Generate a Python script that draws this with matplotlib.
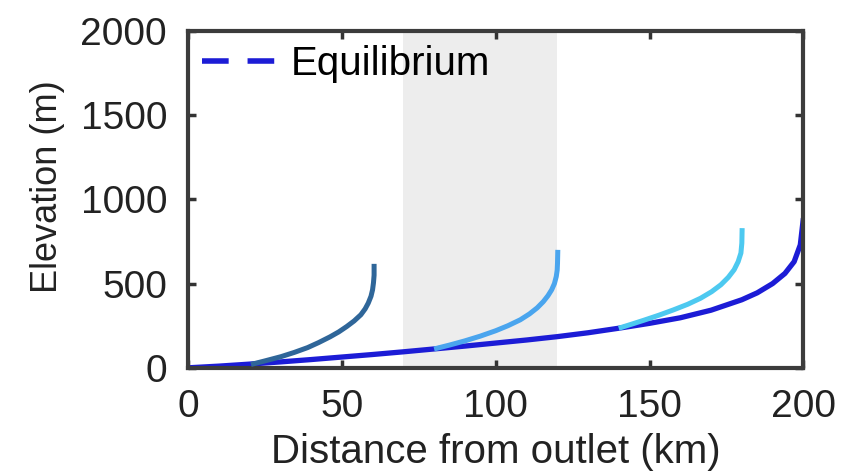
import numpy as np
import matplotlib
matplotlib.use('Agg')
import matplotlib.pyplot as plt
from matplotlib.lines import Line2D

plt.rcParams['font.family'] = ['Liberation Sans', 'DejaVu Sans']

# equilibrium profile (distance km, elevation m)
eq_x = [0, 10, 20, 30, 40, 50, 60, 70, 80, 90, 100, 110, 120, 130, 140,
        150, 160, 170, 180, 185, 190, 194, 197, 199, 200]
eq_y = [0, 10, 22, 35, 49, 64, 79, 95, 112, 129, 147, 165, 185, 208, 235,
        264, 297, 342, 404, 445, 500, 560, 630, 730, 888]

# transient profiles
t1_x = [20.5, 25, 30.2, 34.5, 38.9, 42.5, 46.2, 49, 51.6, 54, 56.2, 57.6,
        58.6, 59.5, 60.0, 60.3, 60.5, 60.5]
t1_y = [20, 41, 66, 91, 120, 150, 184, 213, 245, 278, 315, 350,
        384, 425, 463, 505, 550, 617]
t2_x = [80, 85, 90, 95, 100, 104, 108, 111, 113.5, 115.5, 117, 118.2,
        119.1, 119.7, 120.0, 120.1, 120.2]
t2_y = [112, 135, 160, 188, 220, 250, 285, 320, 356, 393, 428, 463,
        500, 542, 580, 621, 700]
t3_x = [140, 144, 148.1, 153, 157.8, 162.4, 166.6, 170.2, 173.2, 175.6,
        177.5, 178.8, 179.7, 180.0, 180.1]
t3_y = [235, 258, 282, 312, 344, 377, 413, 452, 493, 537,
        582, 630, 681, 740, 829]

span = (70, 120)

fig = plt.figure(figsize=(8.62, 4.74), dpi=100)
ax = fig.add_axes([0.218, 0.224, 0.714, 0.711])

ax.axvspan(span[0], span[1], color='#ededed', zorder=0, lw=0)

ax.plot(eq_x, eq_y, color='#1c1cd6', lw=3.8, solid_capstyle='butt', zorder=2)
ax.plot(t1_x, t1_y, color='#2f6699', lw=3.6, solid_capstyle='butt', zorder=3)
ax.plot(t2_x, t2_y, color='#4aa5ee', lw=3.6, solid_capstyle='butt', zorder=3)
ax.plot(t3_x, t3_y, color='#4dc9f0', lw=3.6, solid_capstyle='butt', zorder=3)

ax.set_xlim(0, 200)
ax.set_ylim(0, 2000)
ax.set_xticks([0, 50, 100, 150, 200])
ax.set_yticks([0, 500, 1000, 1500, 2000])
ax.tick_params(direction='in', length=6, width=2.5, top=True, right=True,
               labelsize=28, colors='#333333', labelcolor='#222222')
ax.tick_params(axis='x', pad=15)
ax.tick_params(axis='y', pad=15)
for s in ax.spines.values():
    s.set_linewidth(3)
    s.set_color('#3c3c3c')
ax.set_xlabel('Distance from outlet (km)', fontsize=29, color='#222222', labelpad=6)
ax.set_ylabel('Elevation (m)', fontsize=26, color='#222222')
ax.yaxis.set_label_coords(-0.2, 0.537)

handle = Line2D([], [], color='#1c1cd6', lw=4, ls=(0, (4.8, 3.4)))
ax.legend([handle], ['Equilibrium'], loc='upper left', frameon=False,
          fontsize=29, handlelength=1.8, borderaxespad=0.05, borderpad=0.3,
          handletextpad=0.4)

fig.savefig('out.png', dpi=100)
